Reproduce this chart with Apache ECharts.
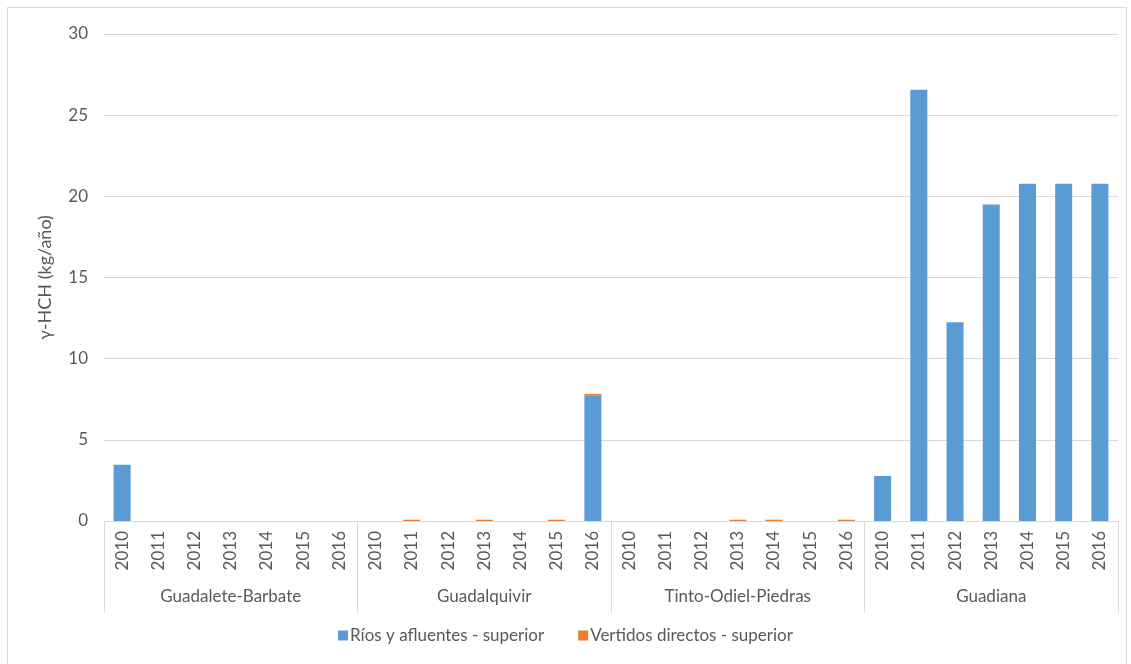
<!DOCTYPE html>
<html>
<head>
<meta charset="utf-8">
<script src="https://cdn.jsdelivr.net/npm/echarts@6/dist/echarts.min.js"></script>
<style>
  html, body { margin: 0; padding: 0; background: #fff; }
  #frame { position: absolute; left: 7px; top: 7px; width: 1120px; height: 670px; border: 1px solid #d9d9d9; box-sizing: border-box; }
  #chart { position: absolute; left: 0; top: 0; width: 1131px; height: 664px; }
</style>
</head>
<body>
<div id="frame"></div>
<div id="chart"></div>
<script>
const groups = ['Guadalete-Barbate', 'Guadalquivir', 'Tinto-Odiel-Piedras', 'Guadiana'];
const years = ['2010', '2011', '2012', '2013', '2014', '2015', '2016'];
const seriesNames = ['Ríos y afluentes - superior', 'Vertidos directos - superior'];
const yTicks = { min: 0, max: 30, interval: 5 };
const yAxisTitle = 'γ-HCH (kg/año)';

// Values per group, 2010..2016
const riosGuadalete   = [3.46, 0, 0, 0, 0, 0, 0];
const riosGuadalquivir = [0, 0, 0, 0, 0, 0, 7.75];
const riosTinto       = [0, 0, 0, 0, 0, 0, 0];
const riosGuadiana    = [2.77, 26.57, 12.25, 19.49, 20.78, 20.78, 20.78];

const vertGuadalete   = [0, 0, 0, 0, 0, 0, 0];
const vertGuadalquivir = [0, 0.08, 0, 0.08, 0, 0.08, 0.08];
const vertTinto       = [0, 0, 0, 0.08, 0.08, 0, 0.08];
const vertGuadiana    = [0, 0, 0, 0, 0, 0, 0];

const yearCats = [];
groups.forEach(function (g) { years.forEach(function (y) { yearCats.push(y); }); });
const rios = [].concat(riosGuadalete, riosGuadalquivir, riosTinto, riosGuadiana);
const vert = [].concat(vertGuadalete, vertGuadalquivir, vertTinto, vertGuadiana);

const FONT = 'Lato';
const TXT = '#595959';
const GRID = '#d9d9d9';

const chart = echarts.init(document.getElementById('chart'), null, { renderer: 'canvas' });
chart.setOption({
  animation: false,
  textStyle: { fontFamily: FONT },
  grid: { left: 104, right: 13, top: 34, bottom: 143, containLabel: false },
  legend: {
    bottom: 15,
    left: 'center',
    itemWidth: 10, itemHeight: 10, itemGap: 34,
    icon: 'rect',
    textStyle: { color: TXT, fontSize: 17, fontFamily: FONT, padding: [0, 0, 0, -3] },
    data: seriesNames
  },
  xAxis: [
    {
      type: 'category',
      data: yearCats,
      position: 'bottom',
      axisLine: { show: true, lineStyle: { color: GRID } },
      axisTick: { show: false },
      axisLabel: { rotate: 90, interval: 0, margin: 10, color: TXT, fontSize: 17, fontFamily: FONT }
    },
    {
      type: 'category',
      data: groups,
      position: 'bottom',
      axisLine: { show: true, lineStyle: { color: GRID } },
      axisTick: { show: true, interval: 0, length: 92, lineStyle: { color: GRID } },
      axisLabel: { interval: 0, margin: 67, color: TXT, fontSize: 17, fontFamily: FONT }
    }
  ],
  yAxis: {
    type: 'value',
    min: yTicks.min, max: yTicks.max, interval: yTicks.interval,
    name: yAxisTitle,
    nameLocation: 'middle',
    nameGap: 50,
    nameRotate: 90,
    nameTextStyle: { color: TXT, fontSize: 18, fontFamily: FONT },
    axisLine: { show: false },
    axisTick: { show: false },
    axisLabel: { color: TXT, fontSize: 17, margin: 16, fontFamily: FONT },
    splitLine: { lineStyle: { color: GRID, width: 1 } }
  },
  series: [
    {
      name: seriesNames[0], type: 'bar', stack: 'a', xAxisIndex: 0,
      data: rios, barWidth: '47%',
      itemStyle: { color: '#5B9BD5' }
    },
    {
      name: seriesNames[1], type: 'bar', stack: 'a', xAxisIndex: 0,
      data: vert, barWidth: '47%',
      itemStyle: { color: '#ED7D31' }
    }
  ]
});
</script>
</body>
</html>
